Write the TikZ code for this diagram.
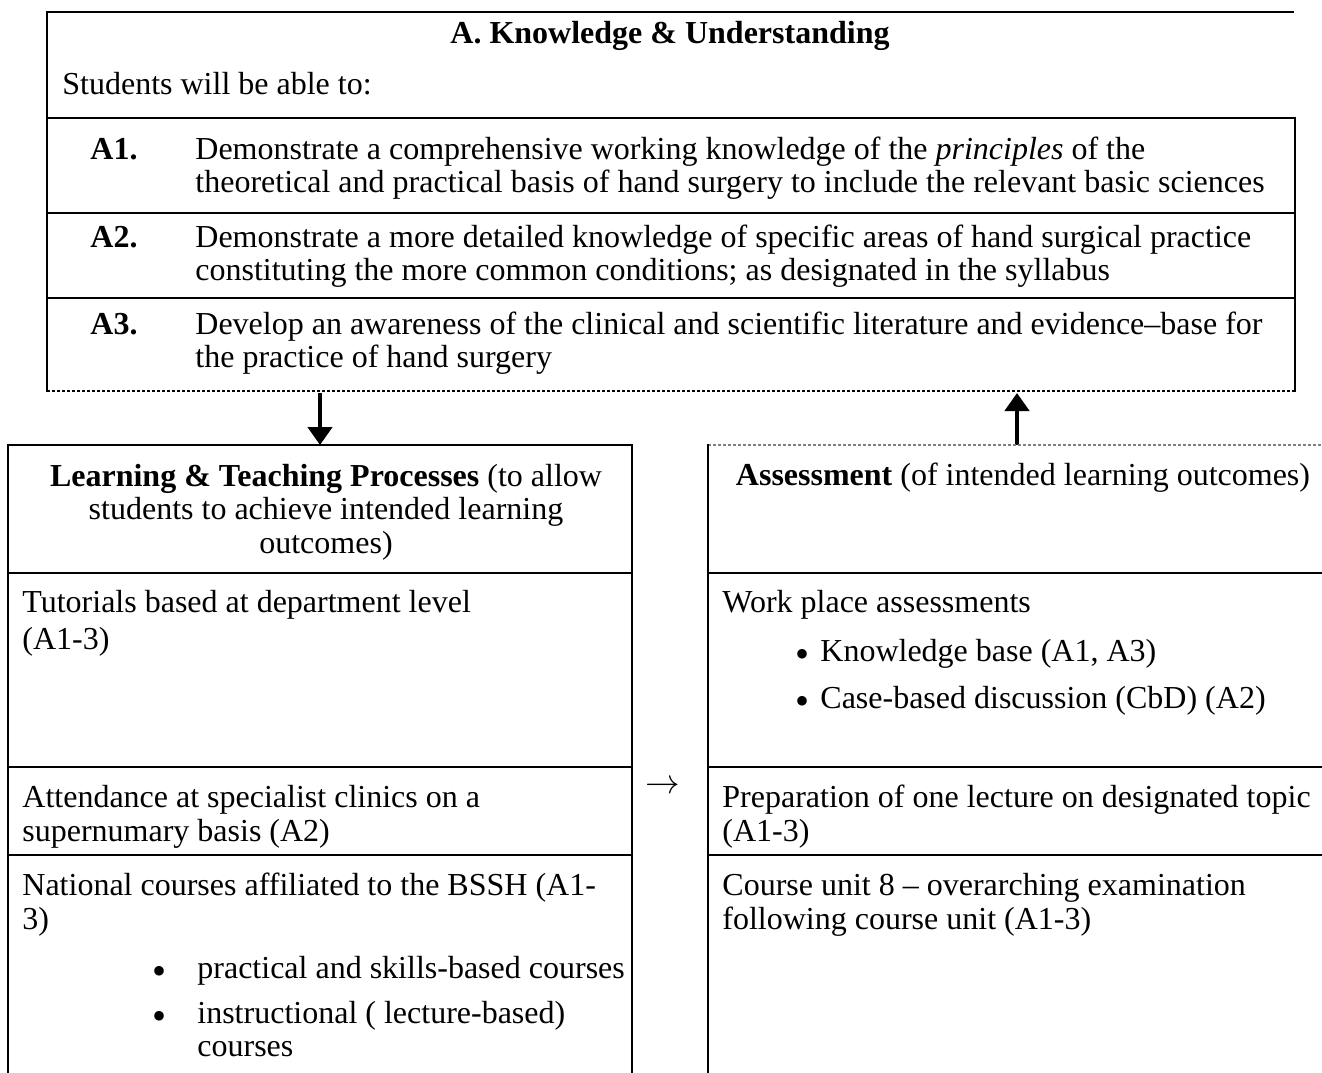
\documentclass[tikz,border=0pt]{standalone}
\usepackage{fontspec}
\setmainfont{Liberation Serif}
\usetikzlibrary{arrows.meta}
\begin{document}
\begin{tikzpicture}[x=0.5pt,y=-0.5pt,
  txt/.style={anchor=base west,inner sep=0pt,font=\fontsize{16}{16.75}\selectfont,align=left},
  ctxt/.style={txt,anchor=base,align=center},
  bul/.style={anchor=center,inner sep=0pt,font=\fontsize{20}{20}\selectfont},
  rule/.style={line width=1.3pt,line cap=rect},
  dashrule/.style={line width=0.8pt,dash pattern=on 1.5pt off 1pt},
  bigarrow/.style={line width=2.4pt,-{Triangle[width=12pt,length=9pt]}}]
\useasboundingbox (0,0) rectangle (1322,1072);
% ---------- top box ----------
\draw[rule] (1293,12) -- (47,12) -- (47,391);
\draw[rule] (47,118) -- (1295,118) -- (1295,391);
\draw[rule] (47,213) -- (1295,213);
\draw[rule] (47,298) -- (1295,298);
\draw[dashrule] (47,391) -- (1295,391);
% (multi-line nodes are placed by the baseline of their last line)
\node[ctxt] (title) at (670,43) {\textbf{A. Knowledge \& Understanding}};
\node[txt] (students) at (62,94) {Students will be able to:};
\node[txt] (a1l) at (90,159) {\textbf{A1.}};
\node[txt] (a1t) at (195,192.5) {Demonstrate a comprehensive working knowledge of the \textit{principles} of the\\theoretical and practical basis of hand surgery to include the relevant basic sciences};
\node[txt] (a2l) at (90,247) {\textbf{A2.}};
\node[txt] (a2t) at (195,280.5) {Demonstrate a more detailed knowledge of specific areas of hand surgical practice\\constituting the more common conditions; as designated in the syllabus};
\node[txt] (a3l) at (90,334) {\textbf{A3.}};
\node[txt] (a3t) at (195,367.5) {Develop an awareness of the clinical and scientific literature and evidence–base for\\the practice of hand surgery};
% ---------- arrows ----------
\coordinate (d1) at (320,393);
\coordinate (d2) at (320,445);
\coordinate (u1) at (1017,445);
\coordinate (u2) at (1017,393);
\draw[bigarrow] (d1) -- (d2);
\draw[bigarrow] (u1) -- (u2);
% ---------- lower left box ----------
\draw[rule] (8,1072) -- (8,445) -- (632,445) -- (632,1072);
\draw[rule] (8,573) -- (632,573);
\draw[rule] (8,767) -- (632,767);
\draw[rule] (8,855) -- (632,855);
\node[ctxt] (lt) at (326,553) {\textbf{Learning \& Teaching Processes} (to allow\\students to achieve intended learning\\outcomes)};
\node[txt] (tut) at (22,612) {Tutorials based at department level};
\node[txt] (tut2) at (22,649) {(A1-3)};
\node[txt] (att) at (22,841) {Attendance at specialist clinics on a\\supernumary basis (A2)};
\node[txt] (nat) at (22,929) {National courses affiliated to the BSSH (A1-\\3)};
\node[bul] (nb1) at (160,975) {\textbullet};
\node[txt] (nt1) at (197,978) {practical and skills-based courses};
\node[bul] (nb2) at (160,1020) {\textbullet};
\node[txt] (nt2) at (197,1056.5) {instructional ( lecture-based)\\courses};
% ---------- middle arrow ----------
\node[txt,anchor=center] (mid) at (663,787) {$\rightarrow$};
% ---------- lower right box ----------
\draw[dashrule,gray] (708,445) -- (1322,445);
\draw[rule] (708,445) -- (708,1072);
\draw[rule] (708,573) -- (1322,573);
\draw[rule] (708,767) -- (1322,767);
\draw[rule] (708,855) -- (1322,855);
\node[ctxt] (as) at (1023,485) {\textbf{Assessment} (of intended learning outcomes)};
\node[txt] (wp) at (722,612) {Work place assessments};
\node[bul] (wb1) at (802,658) {\textbullet};
\node[txt] (wt1) at (820,661) {Knowledge base (A1, A3)};
\node[bul] (wb2) at (802,705) {\textbullet};
\node[txt] (wt2) at (820,708) {Case-based discussion (CbD) (A2)};
\node[txt] (prep) at (722,841) {Preparation of one lecture on designated topic\\(A1-3)};
\node[txt] (cu) at (722,929) {Course unit 8 – overarching examination\\following course unit (A1-3)};
\end{tikzpicture}
\end{document}
